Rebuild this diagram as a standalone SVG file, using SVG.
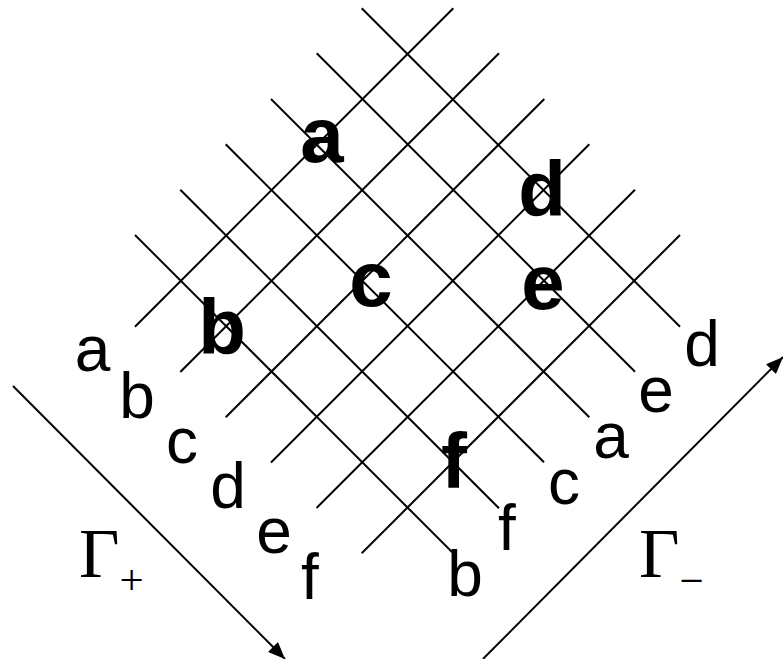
<svg xmlns="http://www.w3.org/2000/svg" width="783" height="659" viewBox="0 0 783 659">
<style>
.g{stroke:#000;stroke-width:2;fill:none;stroke-linecap:butt}
.ar{stroke:#000;stroke-width:2;fill:none}
.lb{font-family:"Liberation Sans",Arial,sans-serif;font-size:64px;fill:#000;text-anchor:middle}
.bd{font-family:"Liberation Sans",Arial,sans-serif;font-size:78px;font-weight:bold;fill:#000;text-anchor:middle}
.gm{font-family:"Liberation Serif","Times New Roman",serif;font-size:70px;fill:#000}
.sb{font-size:43px}
</style>
<defs>
<marker id="ah" markerUnits="userSpaceOnUse" markerWidth="18" markerHeight="14" refX="17" refY="7" orient="auto">
<path d="M0,0 L17,7 L0,14 z" fill="#000"/>
</marker>
</defs>
<g id="connectors">
<g id="grid-down">
<line class="g" x1="361.7" y1="8.3" x2="680" y2="326.7"/>
<line class="g" x1="316.7" y1="53.3" x2="635" y2="371.7"/>
<line class="g" x1="271" y1="99" x2="589.3" y2="417.3"/>
<line class="g" x1="225.7" y1="144.3" x2="544" y2="462.3"/>
<line class="g" x1="180.3" y1="189.7" x2="499" y2="508.3"/>
<line class="g" x1="135" y1="235" x2="452.5" y2="552.5"/>
</g>
<g id="grid-up">
<line class="g" x1="135" y1="326.7" x2="453.3" y2="8.3"/>
<line class="g" x1="180.3" y1="372" x2="499" y2="53.3"/>
<line class="g" x1="225.7" y1="417.3" x2="544.3" y2="99"/>
<line class="g" x1="271" y1="462.5" x2="589.3" y2="144.3"/>
<line class="g" x1="316.5" y1="508" x2="635" y2="189.7"/>
<line class="g" x1="361.7" y1="553.3" x2="680" y2="235"/>
</g>
<line id="arrow-plus" class="ar" x1="13" y1="386" x2="285" y2="659" marker-end="url(#ah)"/>
<line id="arrow-minus" class="ar" x1="483" y1="659" x2="783" y2="357" marker-end="url(#ah)"/>
</g>
<g id="node-bold-a"><text class="bd" x="322" y="162">a</text></g>
<g id="node-bold-d"><text class="bd" x="542" y="216">d</text></g>
<g id="node-bold-c"><text class="bd" x="371" y="306">c</text></g>
<g id="node-bold-e"><text class="bd" x="543" y="309">e</text></g>
<g id="node-bold-b"><text class="bd" x="222" y="354">b</text></g>
<g id="node-bold-f"><text class="bd" x="454" y="488">f</text></g>
<g id="labels-left">
<text class="lb" x="92.5" y="371">a</text>
<text class="lb" x="137" y="418">b</text>
<text class="lb" x="182" y="463">c</text>
<text class="lb" x="228" y="508">d</text>
<text class="lb" x="274" y="553">e</text>
<text class="lb" x="310" y="599">f</text>
</g>
<g id="labels-right">
<text class="lb" x="702" y="366">d</text>
<text class="lb" x="656" y="412">e</text>
<text class="lb" x="611" y="458">a</text>
<text class="lb" x="564" y="504">c</text>
<text class="lb" x="507" y="550">f</text>
<text class="lb" x="465" y="596">b</text>
</g>
<g id="gamma-plus">
<text class="gm" x="79" y="577">Γ<tspan class="sb" dx="0" dy="17">+</tspan></text>
</g>
<g id="gamma-minus">
<text class="gm" x="639" y="577">Γ<tspan class="sb" dx="0" dy="18">−</tspan></text>
</g>
</svg>
